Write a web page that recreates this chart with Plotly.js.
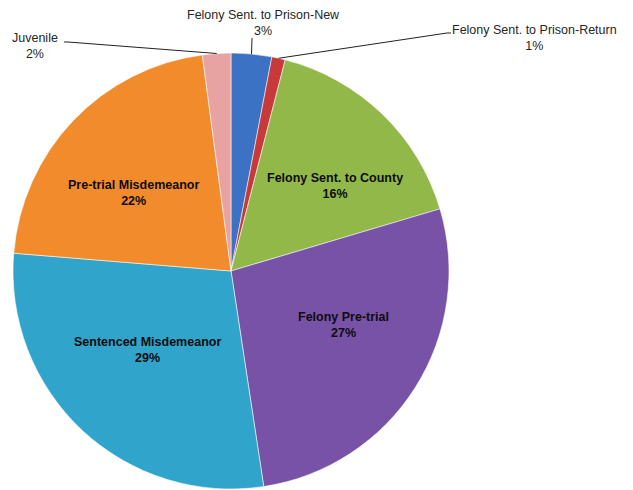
<!DOCTYPE html>
<html>
<head>
<meta charset="utf-8">
<script src="https://cdn.plot.ly/plotly-3.0.1.min.js"></script>
<style>
  html, body { margin: 0; padding: 0; background: #fff; }
  #chart { width: 633px; height: 490px; }
</style>
</head>
<body>
<div id="chart"></div>
<script>
// data (share of population, %)
const categories = [
    'Felony Sent. to Prison-New',
    'Felony Sent. to Prison-Return',
    'Felony Sent. to County',
    'Felony Pre-trial',
    'Sentenced Misdemeanor',
    'Pre-trial Misdemeanor',
    'Juvenile'
];
const shares = [3.0, 1.0, 16.4, 27.2, 28.7, 21.6, 2.1];
const sliceColors = ['#3b72c3', '#c8393a', '#92b84a', '#7752a6', '#31a4cb', '#f28b2b', '#e7a2a2'];

// label placement (pixels, top of the text block); small slices get a leader line
const labelPos = [
    { x: 263, y: 6, elbowX: 252, elbowY: 38 },
    { x: 534, y: 21, elbowX: 447, elbowY: 33 },
    { x: 335, y: 169 },
    { x: 343, y: 308 },
    { x: 147, y: 333 },
    { x: 133, y: 176 },
    { x: 35, y: 29, elbowX: 68, elbowY: 42 }
];

const W = 633, H = 490;
const cx = 231, cy = 271, R = 218;   // pie centre / radius in pixels
const px = (x) => x / W;
const py = (y) => 1 - y / H;

const total = shares.reduce((a, b) => a + b, 0);

const trace = {
    type: 'pie',
    labels: categories,
    values: shares,
    sort: false,
    direction: 'clockwise',
    rotation: 0,
    marker: { colors: sliceColors, line: { color: 'rgba(255,255,255,0.55)', width: 1 } },
    textinfo: 'none',
    hoverinfo: 'none',
    showlegend: false,
    domain: { x: [px(cx - R), px(cx + R)], y: [py(cy + R), py(cy - R)] }
};

const annotations = [];
const shapes = [];
let cum = 0;
shares.forEach((v, i) => {
    const mid = (cum + v / 2) / total * 2 * Math.PI;
    cum += v;
    const lab = labelPos[i];
    const pct = Math.round(v / total * 100) + '%';
    const outside = lab.elbowX !== undefined;
    annotations.push({
        xref: 'paper', yref: 'paper',
        x: px(lab.x), y: py(lab.y),
        xanchor: 'center', yanchor: 'top',
        text: outside ? categories[i] + '<br>' + pct : '<b>' + categories[i] + '<br>' + pct + '</b>',
        showarrow: false,
        font: { family: 'Liberation Sans, Arial, sans-serif', size: 12.5, color: outside ? '#262626' : '#0d0d0d' },
        align: 'center'
    });
    if (!outside) return;
    const tipX = cx + R * Math.sin(mid);
    const tipY = cy - R * Math.cos(mid);
    shapes.push({
        type: 'line', xref: 'paper', yref: 'paper',
        x0: px(tipX), y0: py(tipY), x1: px(lab.elbowX), y1: py(lab.elbowY),
        line: { color: '#222', width: 1 }
    });
});
// short horizontal ticks at the label end of the leader lines
shapes.push({ type: 'line', xref: 'paper', yref: 'paper', x0: px(447), y0: py(33), x1: px(451), y1: py(33), line: { color: '#222', width: 1 } });
shapes.push({ type: 'line', xref: 'paper', yref: 'paper', x0: px(68), y0: py(42), x1: px(64), y1: py(42), line: { color: '#222', width: 1 } });

const layout = {
    width: W,
    height: H,
    margin: { l: 0, r: 0, t: 0, b: 0 },
    paper_bgcolor: '#fff',
    annotations: annotations,
    shapes: shapes
};

Plotly.newPlot('chart', [trace], layout, { displayModeBar: false, staticPlot: true });
</script>
</body>
</html>
